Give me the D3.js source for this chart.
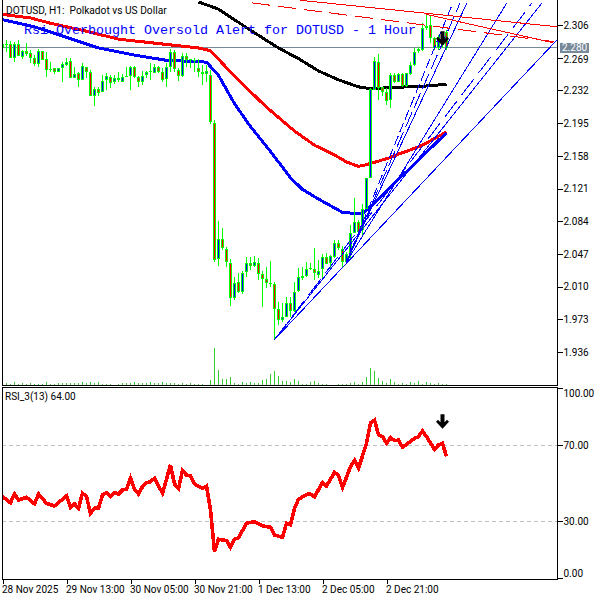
<!DOCTYPE html>
<html><head><meta charset="utf-8">
<script src="https://d3js.org/d3.v7.min.js"></script>
<style>html,body{margin:0;padding:0;background:#fff}svg{display:block}</style>
</head><body><svg id="c" width="600" height="600"></svg>
<script>
const high=[2.287,2.289,2.288,2.287,2.289,2.278,2.286,2.278,2.272,2.279,
2.277,2.275,2.264,2.257,2.257,2.264,2.269,2.269,2.258,2.253,
2.263,2.258,2.255,2.236,2.236,2.249,2.252,2.249,2.249,2.253,
2.251,2.258,2.260,2.260,2.248,2.254,2.254,2.263,2.262,2.260,
2.257,2.263,2.279,2.278,2.257,2.274,2.274,2.268,2.269,2.268,
2.261,2.261,2.255,2.199,2.084,2.076,2.055,2.041,2.021,2.025,
2.028,2.043,2.043,2.045,2.042,2.028,2.032,2.039,2.015,1.993,
1.992,1.998,1.998,2.015,2.031,2.032,2.038,2.037,2.054,2.040,
2.047,2.048,2.046,2.063,2.063,2.056,2.049,2.080,2.110,2.085,
2.103,2.133,2.235,2.270,2.273,2.236,2.235,2.252,2.252,2.252,
2.252,2.252,2.264,2.280,2.281,2.308,2.318,2.317,2.292,2.295,2.296,2.300];
const low=[2.275,2.275,2.269,2.264,2.271,2.268,2.271,2.263,2.260,2.258,
2.266,2.247,2.253,2.251,2.253,2.242,2.260,2.246,2.246,2.236,
2.244,2.246,2.226,2.214,2.226,2.230,2.232,2.235,2.239,2.242,
2.242,2.247,2.232,2.246,2.236,2.238,2.246,2.244,2.252,2.252,
2.242,2.236,2.253,2.253,2.243,2.247,2.258,2.257,2.253,2.247,
2.238,2.242,2.194,2.038,2.033,2.051,2.032,1.988,1.995,2.003,
2.002,2.021,2.029,2.032,2.018,1.987,2.008,2.010,1.950,1.967,
1.970,1.976,1.976,1.981,2.004,2.018,2.021,2.029,2.018,2.020,
2.018,2.036,2.030,2.042,2.051,2.031,2.037,2.040,2.071,2.071,
2.068,2.098,2.133,2.232,2.221,2.226,2.215,2.212,2.240,2.242,
2.236,2.236,2.249,2.260,2.274,2.277,2.300,2.286,2.278,2.278,2.280,2.278];
const open=[2.280,2.285,2.284,2.269,2.285,2.270,2.277,2.274,2.269,2.262,
2.277,2.268,2.256,2.257,2.253,2.257,2.261,2.265,2.246,2.252,
2.244,2.258,2.253,2.226,2.234,2.230,2.244,2.247,2.242,2.246,
2.242,2.247,2.248,2.258,2.247,2.242,2.249,2.253,2.252,2.258,
2.253,2.245,2.258,2.275,2.255,2.248,2.271,2.266,2.265,2.257,
2.253,2.251,2.249,2.195,2.041,2.064,2.053,2.037,1.997,2.015,
2.004,2.027,2.037,2.033,2.037,2.024,2.019,2.014,2.013,1.985,
1.972,1.976,1.992,1.982,2.005,2.020,2.022,2.030,2.030,2.023,
2.030,2.043,2.037,2.043,2.059,2.053,2.038,2.048,2.071,2.083,
2.074,2.098,2.133,2.232,2.264,2.236,2.230,2.221,2.249,2.242,
2.251,2.237,2.251,2.261,2.277,2.278,2.303,2.306,2.291,2.280,2.283,2.298];
const close=[2.285,2.283,2.269,2.285,2.271,2.277,2.273,2.269,2.262,2.277,
2.266,2.255,2.255,2.253,2.257,2.262,2.264,2.246,2.251,2.244,
2.260,2.253,2.226,2.234,2.229,2.243,2.248,2.240,2.246,2.244,
2.247,2.248,2.258,2.247,2.242,2.248,2.253,2.254,2.258,2.253,
2.244,2.258,2.275,2.256,2.248,2.271,2.266,2.268,2.266,2.253,
2.251,2.254,2.196,2.040,2.064,2.054,2.038,1.997,2.014,2.004,
2.025,2.037,2.033,2.038,2.024,2.019,2.014,2.013,1.985,1.972,
1.976,1.992,1.982,2.004,2.021,2.022,2.030,2.031,2.025,2.028,
2.043,2.036,2.045,2.059,2.054,2.038,2.047,2.071,2.083,2.072,
2.098,2.133,2.234,2.265,2.235,2.230,2.220,2.249,2.242,2.251,
2.237,2.252,2.261,2.275,2.279,2.303,2.305,2.291,2.280,2.292,2.292,2.280];
const volume=[1,2,1,3,1,2,1,2,1,1,1,3,1,1,2,2,2,2,2,2,3,2,3,2,3,1,1,1,0,1,2,2,2,3,2,2,2,3,2,2,3,2,2,2,1,2,1,2,1,1,
1,0,5,37,15,6,6,8,2,1,3,2,3,2,2,5,6,11,14,9,4,4,3,6,4,1,1,3,4,2,1,1,0,0,1,1,1,2,3,1,3,8,17,14,7,4,2,6,3,1,
2,1,3,2,4,1,3,2,1,2,1,1];
const maRedBars=[0,7,12,20,29,37,49,52,58,66,73,78,83,86,89,91,94,97,99,101,105,109,111];
const maRedVals=[2.318,2.314,2.308,2.300,2.290,2.286,2.280,2.277,2.248,2.213,2.186,2.170,2.159,2.151,2.146,2.148,2.152,2.156,2.160,2.163,2.170,2.180,2.185];
const maBlueBars=[0,8,16,24,33,41,51,54,58,62,67,72,75,79,83,85,90,94,99,101,106,111];
const maBlueVals=[2.312,2.304,2.292,2.280,2.272,2.266,2.264,2.249,2.217,2.191,2.163,2.133,2.120,2.109,2.099,2.094,2.092,2.109,2.132,2.140,2.162,2.184];
const maBlackBars=[49,54,62,69,74,79,84,89,92,101,106,111];
const maBlackVals=[2.332,2.324,2.300,2.280,2.268,2.254,2.244,2.236,2.234,2.236,2.237,2.239];
const blueLines=[[68,1.950,138.6,2.289,""],[68,1.950,134.9,2.331,""],[68,1.950,132.4,2.331,"20,8"],
[86,2.038,126.1,2.331,""],[86,2.038,116.1,2.331,""],[86,2.038,114.4,2.331,"16,5"],[86,2.038,112.6,2.331,"10,4"]];
const redLines=[[74.4,2.334,138.6,2.304,""],[62.4,2.331,138.1,2.287,"18,8"],[106,2.318,137.6,2.286,""]];
const rsiBars=[0,2,3,4,6,8,9,11,13,16,17,18,19,20,21,22,23,24,25,26,27,28,29,30,31,32,33,34,35,36,37,38,40,42,43,44,45,46,47,48,50,51,52,53,54,56,57,58,59,61,63,65,67,68,70,71,72,73,74,76,77,78,80,81,83,84,85,86,87,88,89,91,92,93,94,95,96,97,98,99,100,102,103,104,105,106,108,109,110,111];
const rsiVals=[42.8,39.6,44.2,41.0,42.5,39.0,44.2,39.3,37.9,43.2,37.2,39.0,36.7,44.6,42.8,34.0,36.7,36.7,43.7,44.9,42.8,44.9,44.2,46.3,46.7,52.5,46.7,44.2,48.1,50.2,50.7,52.5,44.6,59.5,49.5,47.2,56.5,54.2,53.7,49.5,47.2,48.4,35.8,13.9,20.4,19.7,16.1,20.4,21.1,28.8,29.7,27.4,26.7,22.6,21.4,28.8,28.1,36.7,41.4,44.0,44.2,42.8,50.2,48.4,55.6,53.9,47.7,53.0,58.6,61.9,57.7,70.9,81.7,83.1,75.3,74.4,70.9,74.0,72.3,72.6,68.8,71.8,73.5,74.4,77.4,74.4,67.7,70.0,70.9,64.0];
const priceTicks=[2.306,2.269,2.232,2.195,2.158,2.121,2.084,2.047,2.010,1.973,1.936];
const rsiTicks=[100,70,30,0];
const rsiLevels=[70,30];
const timeTickBars=[0,16,32,48,64,80,96];
const timeTickLabels=["28 Nov 2025","29 Nov 13:00","30 Nov 05:00","30 Nov 21:00","1 Dec 13:00","2 Dec 05:00","2 Dec 21:00"];
const lastPrice=2.280;
const arrowMain=[110,2.290];
const arrowRsi=[110,82];
const headerText="DOTUSD, H1:  Polkadot vs US Dollar";
const rsiText="RSI_3(13) 64.00";
const alertText="Rsi Overbought Oversold Alert for DOTUSD - 1 Hour";

const svg=d3.select("#c");
const L=2,R=557,T=0,B=385,RT=387,RB=579;
const x=d3.scaleLinear().domain([0,138.625]).range([2.5,557]);
const y=d3.scaleLinear().domain([2.306,1.936]).range([25,352]);
const yv=d3.scaleLinear().domain([0,37]).range([385,348]);
const yr=d3.scaleLinear().domain([0,100]).range([578,388]);
const FONT="Roboto, sans-serif";
const defs=svg.append("defs");
defs.append("clipPath").attr("id","m").append("rect").attr("x",L).attr("y",T).attr("width",R-L).attr("height",B-T);
const main=svg.append("g").attr("clip-path","url(#m)");
main.append("line").attr("x1",L).attr("x2",R).attr("y1",Math.floor(y(lastPrice))+.5).attr("y2",Math.floor(y(lastPrice))+.5)
  .attr("stroke","#778899").attr("shape-rendering","crispEdges");
main.append("g").selectAll("rect").data(volume).join("rect")
  .attr("x",(d,i)=>x(i)-.5).attr("width",1).attr("y",d=>yv(d)).attr("height",d=>385-yv(d))
  .attr("fill","#32cd32").attr("shape-rendering","crispEdges");
const line=d3.line().x(d=>x(d[0])).y(d=>y(d[1]));
function ma(b,v,c){main.append("path").attr("d",line(b.map((k,i)=>[k,v[i]]))).attr("fill","none").attr("stroke",c).attr("stroke-width",3).attr("shape-rendering","crispEdges");}
ma(maBlackBars,maBlackVals,"#000");
ma(maRedBars,maRedVals,"#ff0000");
ma(maBlueBars,maBlueVals,"#0000ff");
const g=main.append("g").attr("shape-rendering","crispEdges");
high.forEach((h,i)=>{
  const top=Math.round(y(Math.max(open[i],close[i]))),bot=Math.round(y(Math.min(open[i],close[i])));
  g.append("rect").attr("x",x(i)-.5).attr("width",1).attr("y",y(h)).attr("height",y(low[i])-y(h)).attr("fill","#00ff00");
  g.append("rect").attr("x",x(i)-1.5).attr("width",3).attr("y",top).attr("height",Math.max(1,bot-top)).attr("fill","#00ff00");
  if(bot-top>2) g.append("rect").attr("x",x(i)-.5).attr("width",1).attr("y",top+1).attr("height",bot-top-2)
    .attr("fill",close[i]>open[i]?"#0000ff":"#ff0000");
});
function tl(a,c){main.append("g").selectAll("line").data(a).join("line")
  .attr("x1",d=>x(d[0])).attr("y1",d=>y(d[1])).attr("x2",d=>x(d[2])).attr("y2",d=>y(d[3]))
  .attr("stroke",c).attr("stroke-width",1).attr("stroke-dasharray",d=>d[4]||null).attr("shape-rendering","crispEdges");}
tl(blueLines,"#0000ff");
tl(redLines,"#ff0000");
const arrowPath="M-2,-8H2V0L4.5,-2.5L6.5,-0.5L0,6.5L-6.5,-0.5L-4.5,-2.5L-2,0Z";
main.append("path").attr("d",arrowPath).attr("transform",`translate(${x(arrowMain[0])},${y(arrowMain[1])})`).attr("fill","#000");
main.append("text").attr("x",24).attr("y",34).attr("font-family","'Liberation Mono',monospace").attr("font-size",13.33).attr("fill","#0000ff").text(alertText);
svg.append("text").attr("x",6).attr("y",14).attr("font-family",FONT).attr("font-size",10.2).attr("fill","#000").style("white-space","pre").text(headerText);
const rp=svg.append("g");
rp.selectAll("line.lv").data(rsiLevels).join("line").attr("class","lv").attr("x1",L).attr("x2",R)
  .attr("y1",d=>Math.floor(yr(d))+.5).attr("y2",d=>Math.floor(yr(d))+.5)
  .attr("stroke","#c0c0c0").attr("stroke-dasharray","4,3").attr("shape-rendering","crispEdges");
rp.append("path").attr("d",d3.line().x(d=>x(d[0])).y(d=>yr(d[1]))(rsiBars.map((b,i)=>[b,rsiVals[i]])))
  .attr("fill","none").attr("stroke","#ff0000").attr("stroke-width",3.6).attr("shape-rendering","crispEdges");
rp.append("path").attr("d",arrowPath).attr("transform",`translate(${x(arrowRsi[0])},${yr(arrowRsi[1])})`).attr("fill","#000");
svg.append("text").attr("x",5).attr("y",400).attr("font-family",FONT).attr("font-size",10).attr("fill","#000").text(rsiText);
const fr=svg.append("g").attr("shape-rendering","crispEdges").attr("stroke","#000").attr("fill","none");
fr.append("path").attr("d",`M${L+.5},0V${B+.5}H${R+.5}V0`);
fr.append("path").attr("d",`M${L+.5},${RT+.5}H${R+.5}V${RB+.5}H${L+.5}Z`);
function styleAxis(s){s.select(".domain").remove();s.selectAll("line").attr("stroke","#000").attr("shape-rendering","crispEdges");
  s.selectAll("text").attr("font-family",FONT).attr("font-size",10).attr("fill","#000");}
const ap=svg.append("g").attr("transform",`translate(${R+.5},0)`).call(d3.axisRight(y).tickValues(priceTicks).tickFormat(d3.format(".3f")).tickSize(5).tickPadding(1));
styleAxis(ap);
ap.selectAll(".tick").filter(d=>d===2.269).select("text").attr("dy","0.5em");
const ar=svg.append("g").attr("transform",`translate(${R+.5},0)`).call(d3.axisRight(yr).tickValues(rsiTicks).tickFormat(d3.format(".2f")).tickSize(5).tickPadding(1));
styleAxis(ar);
ar.selectAll(".tick").filter(d=>d===100).select("text").attr("dy","0.8em");
ar.selectAll(".tick").filter(d=>d===0).select("text").attr("dy","-0.15em");
const at=svg.append("g").attr("transform",`translate(0,${RB+.5})`).call(d3.axisBottom(x).tickValues(timeTickBars).tickFormat((d,i)=>timeTickLabels[i]).tickSize(4).tickPadding(2));
styleAxis(at);
at.selectAll("text").attr("text-anchor","start").attr("dx",-1);
const lp=svg.append("g");
lp.append("rect").attr("x",R+3).attr("y",y(lastPrice)-5).attr("width",29).attr("height",10).attr("fill","#778899");
lp.append("text").attr("x",R+5).attr("y",y(lastPrice)+3.5).attr("font-family",FONT).attr("font-size",10).attr("fill","#fff").text(d3.format(".3f")(lastPrice));
</script></body></html>
